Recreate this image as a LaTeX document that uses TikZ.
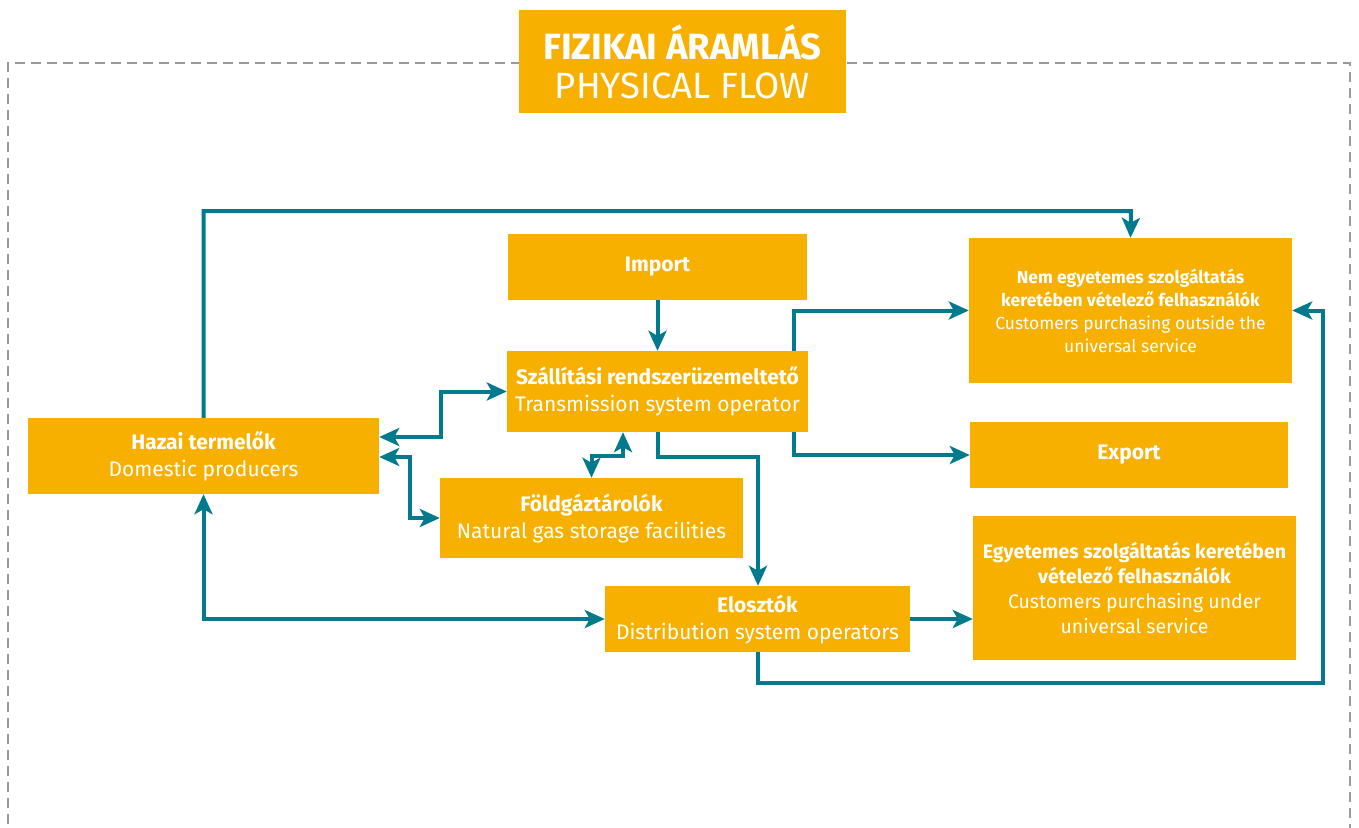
\documentclass[tikz,border=0pt]{standalone}
\usepackage{fontspec}
\setmainfont{Fira Sans}
\usetikzlibrary{arrows.meta}
\definecolor{boxor}{HTML}{F8B000}
\definecolor{teal}{HTML}{007A8C}
\definecolor{dashgray}{HTML}{999999}
\tikzset{
  box/.style={fill=boxor, text=white, inner sep=0pt, align=center},
  bodyfont/.style={font=\fontsize{21}{27}\selectfont},
  conn/.style={draw=teal, line width=4pt},
  arr/.style={conn, -{Stealth[length=20pt,width=18pt,inset=5pt]}},
  arrtwo/.style={conn, {Stealth[length=20pt,width=18pt,inset=5pt]}-{Stealth[length=20pt,width=18pt,inset=5pt]}},
}
\begin{document}
\begin{tikzpicture}[x=1pt,y=-1pt]
\useasboundingbox (0,0) rectangle (1359,827);
% dashed frame
\draw[dashgray, line width=2.5pt, dash pattern=on 10pt off 6pt] (8,840) -- (8,63) -- (1350,63) -- (1350,840);
% title
\node[box, font=\fontsize{36.5}{39}\selectfont, minimum width=327pt, minimum height=103pt] (title) at (682.5,61.5)
  {{\bfseries FIZIKAI ÁRAMLÁS}\\PHYSICAL FLOW};
% boxes
\node[box, bodyfont, minimum width=299pt, minimum height=66pt] (import) at (657.5,267) {\bfseries Import};
\node[box, bodyfont, minimum width=301pt, minimum height=81pt] (tso) at (657.5,391.5)
  {{\bfseries Szállítási rendszerüzemeltető}\\Transmission system operator};
\node[box, font=\fontsize{17.5}{23}\selectfont, minimum width=323pt, minimum height=145pt] (nem) at (1130.5,310.5)
  {{\bfseries Nem egyetemes szolgáltatás}\\{\bfseries keretében vételező felhasználók}\\Customers purchasing outside the\\universal service};
\node[box, bodyfont, minimum width=351pt, minimum height=76pt] (hazai) at (203.5,456)
  {{\bfseries Hazai termelők}\\Domestic producers};
\node[box, bodyfont, minimum width=318pt, minimum height=66pt] (export) at (1129,455) {\bfseries Export};
\node[box, bodyfont, minimum width=303pt, minimum height=80pt] (fold) at (591.5,518)
  {{\bfseries Földgáztárolók}\\Natural gas storage facilities};
\node[box, font=\fontsize{19.5}{25}\selectfont, minimum width=323pt, minimum height=144pt] (egy) at (1134.5,588)
  {{\bfseries Egyetemes szolgáltatás keretében}\\{\bfseries vételező felhasználók}\\Customers purchasing under\\universal service};
\node[box, bodyfont, minimum width=305pt, minimum height=66pt] (elo) at (757.5,619)
  {{\bfseries Elosztók}\\Distribution system operators};
% helper coordinates
\coordinate (top) at (1131,211);
\coordinate (xr) at (794,0);
\coordinate (kink) at (758,457);
\coordinate (mid) at (623,456);
\coordinate (low) at (1323,683);
% connectors
\draw[arr] (hazai.north) |- (top) -- (nem.north);
\draw[arr] (import.south) -- (tso.north);
\draw[arr] (tso.north -| xr) |- (nem.west);
\draw[arr] (tso.south -| xr) |- (export.west);
\draw[arr] (tso.south) |- (kink) -- (kink |- elo.north);
\draw[arrtwo] ([yshift=19pt]hazai.east) -- ++(62,0) |- (tso.west);
\draw[arrtwo] ([yshift=-1pt]hazai.east) -- ++(31,0) |- (fold.west);
\draw[arrtwo] (fold.north) |- (mid) -- (mid |- tso.south);
\draw[arrtwo] (hazai.south) |- (elo.west);
\draw[arr] (elo.east) -- (elo.east -| egy.west);
\draw[arr] (elo.south) |- (low) |- (nem.east);
\end{tikzpicture}
\end{document}
